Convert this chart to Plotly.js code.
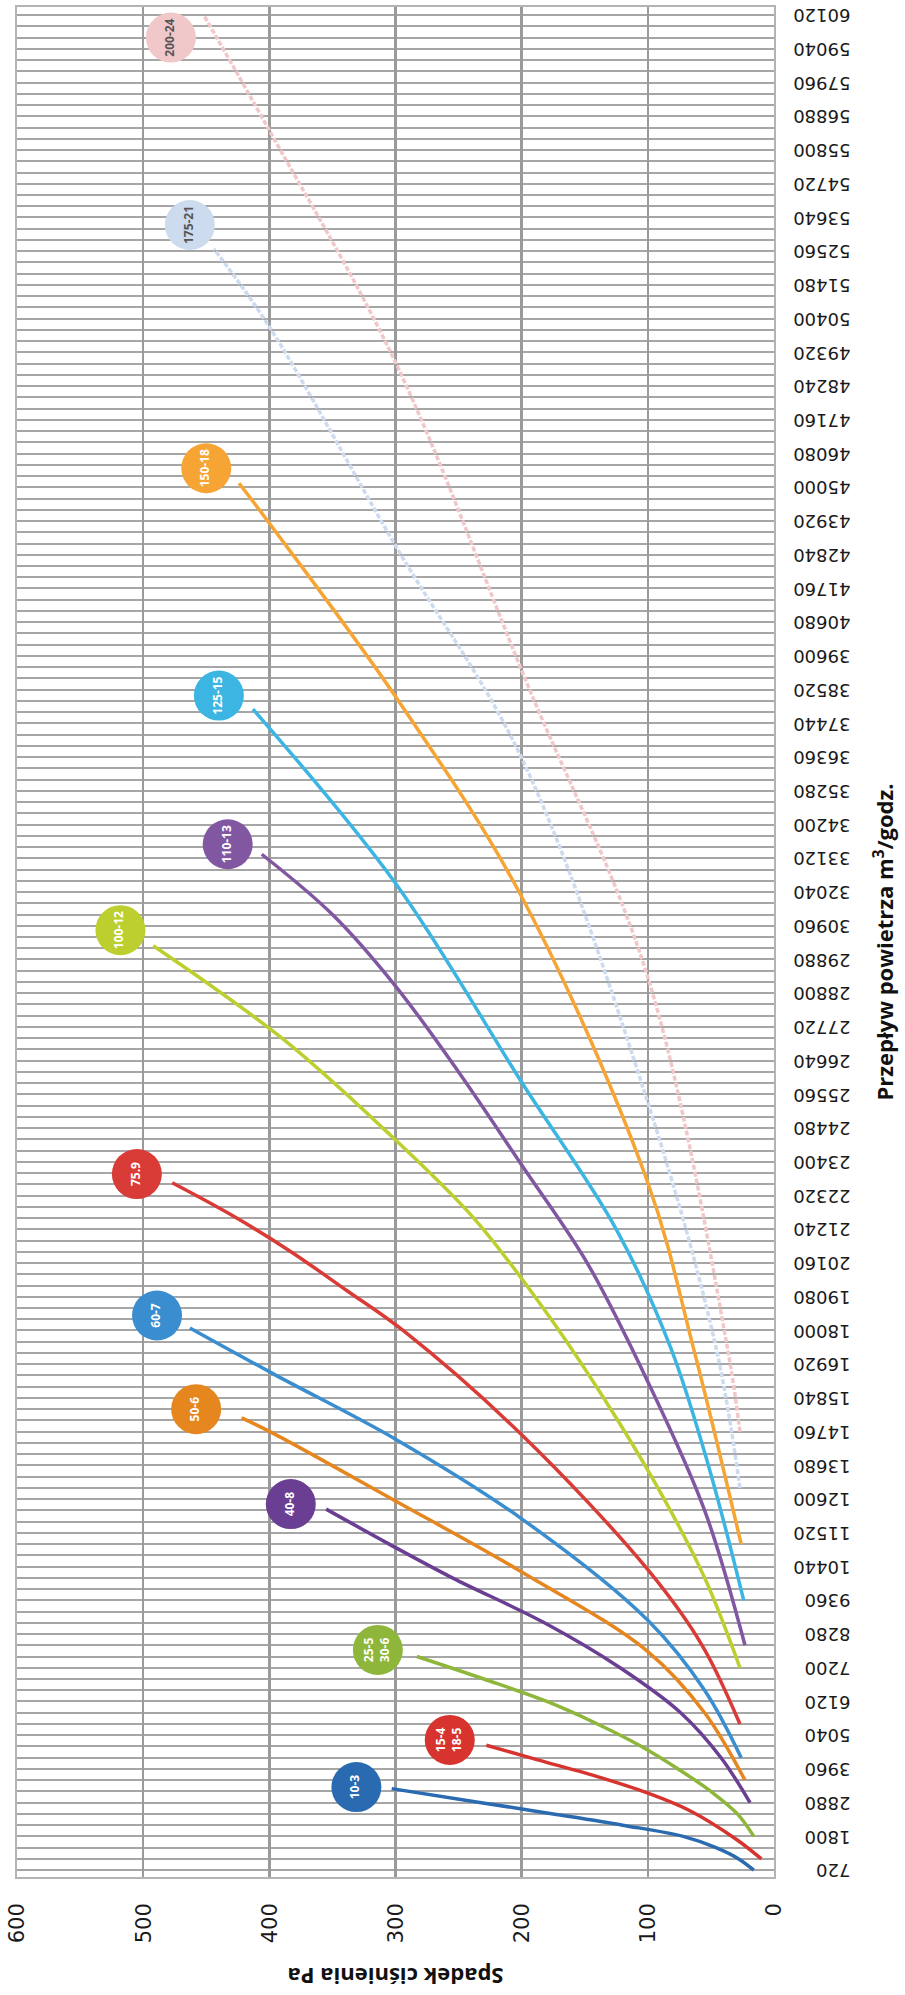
<!DOCTYPE html>
<html>
<head>
<meta charset="utf-8">
<script src="https://cdn.plot.ly/plotly-3.0.1.min.js"></script>
<style>
html,body{margin:0;padding:0;background:#fff;overflow:hidden;width:905px;height:1995px}
#wrap{position:absolute;left:0;top:0;width:1995px;height:905px;transform-origin:0 0;transform:translateY(1995px) rotate(-90deg)}
#chart{width:1995px;height:905px}
</style>
</head>
<body>
<div id="wrap"><div id="chart"></div></div>
<script>
// ---- data (flow m3/h, pressure drop Pa) ----
const flowTickValues = [720,1800,2880,3960,5040,6120,7200,8280,9360,10440,11520,12600,13680,14760,15840,16920,18000,19080,20160,21240,22320,23400,24480,25560,26640,27720,28800,29880,30960,32040,33120,34200,35280,36360,37440,38520,39600,40680,41760,42840,43920,45000,46080,47160,48240,49320,50400,51480,52560,53640,54720,55800,56880,57960,59040,60120];
const pressureTicks = [0,100,200,300,400,500,600];

const flow_10_3 = [720,1080,1440,1800,2160,2520,2880,3330];
const pa_10_3   = [16,28,46,72,120,175,232,303];

const flow_15_4 = [1080,1710,2630,3200,3690,4260,4720];
const pa_15_4   = [10,30,67,101,138,188,228];

const flow_25_5 = [1800,2520,3240,3960,4680,5400,6120,6840,7560];
const pa_25_5   = [16,29,50,76,105,140,180,230,283];

const flow_40_8 = [2880,4320,5760,7200,8640,10080,11160,12280];
const pa_40_8   = [19,42,74,122,182,255,305,355];

const flow_50_6 = [3600,5760,7720,10270,12540,14730,15200];
const pa_50_6   = [23,55,100,200,300,398,422];

const flow_60_7 = [4320,6480,8720,11970,14520,16570,18080];
const pa_60_7   = [26,55,100,200,300,395,463];

const flow_75_9 = [5400,7920,10340,14660,18000,19290,20580,21720,22730];
const pa_75_9   = [27,57,100,200,294,339,385,431,477];

const flow_100_12 = [7200,10080,12960,15840,18720,21600,24480,27360,30320];
const pa_100_12   = [27,55,92,135,183,238,310,390,492];

const flow_110_13 = [7920,12240,16360,20160,23300,26280,29030,31320,33250];
const pa_110_13   = [23,55,100,148,200,250,300,350,406];

const flow_125_15 = [9360,13680,17460,21240,25950,32320,37900];
const pa_125_15   = [24,52,82,125,200,300,413];

const flow_150_18 = [11160,17460,22730,31890,38300,43850,45130];
const pa_150_18   = [26,64,100,200,300,400,424];

const flow_175_21 = [12960,17460,25300,36330,43130,50140,52640];
const pa_175_21   = [27,46,100,200,300,400,444];

const flow_200_24 = [14760,17460,29310,38840,49000,56430,60120];
const pa_200_24   = [27,37,100,197,300,400,452];

const bubbleLabels = ["10-3","15-4<br>18-5","25-5<br>30-6","40-8","50-6","60-7","75.9","100-12","110-13","125-15","150-18","175-21","200-24"];
const bubbleFlow   = [3380,4890,7770,12440,15480,18480,23010,30820,33570,38330,45610,53400,59400];
const bubblePa     = [331,257,314,383,458,489,505,518,433,440,450,463,478];

// ---- styles ----
const colors = ["#2a6ab0","#d7342f","#8db63a","#6a3f93","#e5861f","#3a8ecf","#d93b37","#bccf2f","#8157a2","#3cb5e3","#f6a535","#cddbee","#f0c8ca"];
const textColors = ["#fff","#fff","#fff","#fff","#fff","#fff","#fff","#fff","#fff","#fff","#fff","#555","#555"];

const seriesFlows = [flow_10_3,flow_15_4,flow_25_5,flow_40_8,flow_50_6,flow_60_7,flow_75_9,flow_100_12,flow_110_13,flow_125_15,flow_150_18,flow_175_21,flow_200_24];
const seriesPa    = [pa_10_3,pa_15_4,pa_25_5,pa_40_8,pa_50_6,pa_60_7,pa_75_9,pa_100_12,pa_110_13,pa_125_15,pa_150_18,pa_175_21,pa_200_24];

const traces = seriesFlows.map((f,i)=>({
  type:'scatter', mode:'lines', x:f, y:seriesPa[i],
  name: bubbleLabels[i].replace('<br>',' '),
  line:{color:colors[i], width:3.5, shape:'spline', smoothing:1, dash: i>=11 ? '5px,2px' : 'solid'},
  hoverinfo:'skip', showlegend:false
}));

traces.push({
  type:'scatter', mode:'markers+text', x:bubbleFlow, y:bubblePa,
  text:bubbleLabels, textposition:'middle center',
  marker:{size:50, color:colors, line:{width:0}},
  textfont:{family:'"Open Sans", sans-serif', size:12, color:textColors, weight:700},
  hoverinfo:'skip', showlegend:false, cliponaxis:false
});

// pad tick labels so the visible text aligns like the reference
const tickText = flowTickValues.map(v=>{
  const s=String(v); return s + '\u2007'.repeat(5-s.length);
});

const gridCol = '#a6a6a6';
const titleFont = {family:'"Open Sans", sans-serif', size:22, color:'#111', weight:700};
const layout = {
  width:1995, height:905,
  margin:{l:118, r:7, t:17, b:131},
  paper_bgcolor:'#fff', plot_bgcolor:'#fff',
  showlegend:false,
  xaxis:{
    title:{text:'Przepływ powietrza m<sup>3</sup>/godz.', font:titleFont, standoff:28},
    automargin:false,
    range:[500,60380], tickmode:'array', tickvals:flowTickValues, ticktext:tickText,
    tickangle:-90, ticks:'', ticklabelstandoff:10,
    tickfont:{family:'"DejaVu Sans", sans-serif', size:18, color:'#1a1a1a'},
    showgrid:true, gridcolor:gridCol, gridwidth:2,
    minor:{tickmode:'linear', tick0:720, dtick:360, showgrid:true, gridcolor:gridCol, gridwidth:2, ticks:''},
    showline:true, mirror:true, linecolor:'#b4b4b4', linewidth:2, zeroline:false
  },
  yaxis:{
    title:{text:'Spadek ciśnienia Pa', font:titleFont, standoff:18},
    automargin:false,
    range:[0,600], tickmode:'array', tickvals:pressureTicks,
    ticks:'', ticklabelstandoff:20,
    tickfont:{family:'"DejaVu Sans", sans-serif', size:21, color:'#1a1a1a'},
    showgrid:true, gridcolor:'#9a9a9a', gridwidth:2.5,
    showline:true, mirror:true, linecolor:'#b4b4b4', linewidth:2, zeroline:false
  }
};

Plotly.newPlot('chart', traces, layout, {staticPlot:true, displayModeBar:false});
</script>
</body>
</html>
